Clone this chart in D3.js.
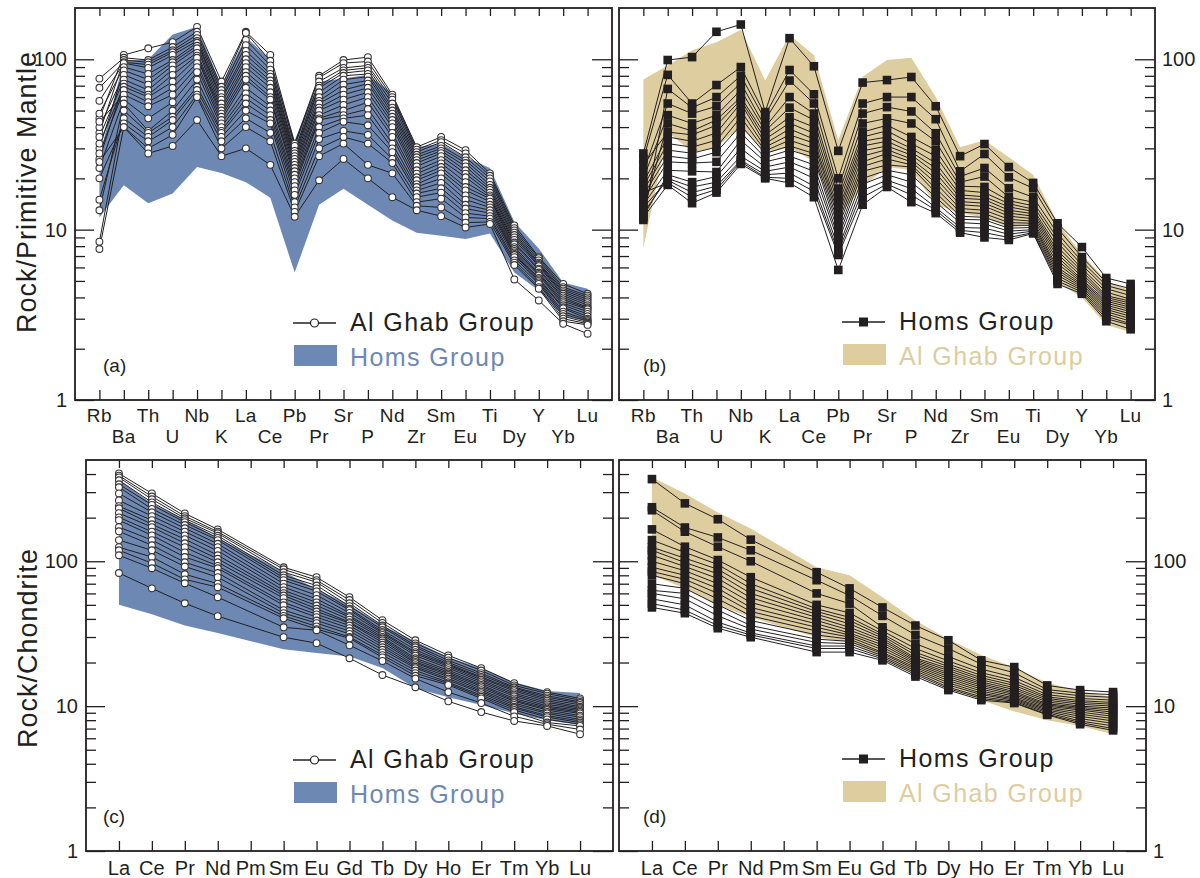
<!DOCTYPE html>
<html>
<head>
<meta charset="utf-8">
<script src="https://cdn.jsdelivr.net/npm/d3@7/dist/d3.min.js"></script>
<style>
  html, body { margin: 0; padding: 0; background: #ffffff; }
  svg { display: block; font-family: "Liberation Sans", Arial, Helvetica, sans-serif; }
</style>
</head>
<body>
<svg id="chart" width="1200" height="878"></svg>
<script>
// ---- element orders ----
const pmElements = ["Rb","Ba","Th","U","Nb","K","La","Ce","Pb","Pr","Sr","P","Nd","Zr","Sm","Eu","Ti","Dy","Y","Yb","Lu"];
const reeElements = ["La","Ce","Pr","Nd","Pm","Sm","Eu","Gd","Tb","Dy","Ho","Er","Tm","Yb","Lu"];

// ---- primitive-mantle normalised samples (Rb ... Lu) ----
const alGhabPM = [
  [45, 106, 116, 126, 155, 74, 145, 106, 32, 80, 99, 103, 62, 30.5, 35, 29.3, 21.4, 10.6, 6.9, 4.8, 4.2],
  [77, 102, 99, 118, 145, 69, 143, 98, 31, 78, 95, 97, 60, 29.5, 33.5, 28, 20.7, 10.2, 6.8, 4.6, 4.1],
  [37, 99, 96, 113, 139, 66, 130, 92, 29, 74, 89, 92, 58, 28.5, 32.6, 26.6, 20, 9.9, 6.6, 4.5, 4.0],
  [68, 96, 93, 110, 133, 63, 121, 87, 28, 70, 86, 89, 55, 27.5, 31, 25.5, 19.2, 9.6, 6.4, 4.4, 3.9],
  [57, 95, 89, 106, 128, 60, 112, 82, 27, 68, 83, 86, 52, 26.6, 30, 24.6, 18.3, 9.3, 6.3, 4.3, 3.8],
  [48, 90, 82, 99, 125, 58, 106, 79, 26, 64, 80, 82, 50, 25.6, 29, 23.5, 17.6, 9.0, 6.2, 4.2, 3.7],
  [30, 86, 76, 96, 120, 55, 100, 75, 25, 60, 76, 79, 48, 24.6, 28.1, 22.3, 17.1, 8.7, 6.1, 4.1, 3.6],
  [40, 81, 71, 92, 116, 52, 95, 72, 24, 57, 71, 75, 46, 23.5, 27, 21.3, 16.5, 8.4, 5.9, 4.0, 3.5],
  [35, 76, 66, 87, 109, 50, 90, 68, 23, 55, 66, 72, 44, 22.3, 25.6, 20.3, 15.9, 8.2, 5.8, 3.9, 3.45],
  [26, 72, 62, 81, 105, 48, 84, 64, 22, 52, 62, 68, 42, 21.3, 24.5, 19, 15.5, 7.9, 5.6, 3.8, 3.4],
  [32, 69, 60, 74, 102, 46, 80, 60, 21, 50, 58, 64, 40, 20.3, 23.3, 17.8, 15.2, 7.7, 5.5, 3.7, 3.3],
  [28, 66, 56, 68, 95, 44, 76, 58, 20, 47, 54, 60, 37, 19.5, 22.3, 17, 14.6, 7.5, 5.4, 3.6, 3.2],
  [43, 62, 53, 62, 90, 42, 68, 53, 19, 45, 50, 56, 35, 18.5, 21.4, 15.9, 14, 7.35, 5.2, 3.5, 3.1],
  [23, 58, 45, 56, 84, 40, 63, 50, 18, 44, 47, 51, 32, 17.8, 20, 15, 13.5, 7.2, 5.1, 3.45, 3.0],
  [13, 55, 38, 50, 76, 38, 59, 47, 17, 40, 45, 47, 30, 17, 18.8, 14, 13, 7.1, 5.0, 3.3, 2.95],
  [8.5, 50, 37, 46, 69, 37, 55, 44, 16, 37, 43, 41, 28.5, 16.3, 17.5, 13.3, 12.5, 6.9, 4.9, 3.2, 2.9],
  [15, 45, 35, 44, 66, 35, 50, 42, 14.5, 34, 38, 36, 26, 15.5, 16.5, 12.5, 12, 6.6, 4.8, 3.1, 2.85],
  [20, 42, 33, 40, 62, 33, 45, 37, 13.5, 30, 35, 32, 24.6, 14.5, 15.2, 11.8, 11.6, 6.4, 4.6, 3.0, 2.8],
  [7.7, 40, 30, 36, 60, 30, 40, 33, 12.7, 27, 32, 24, 21.4, 13.8, 13.5, 11, 11.1, 6.2, 4.5, 2.9, 2.76],
  [25, 40, 28, 31, 44, 27, 30, 24, 11.9, 19.5, 26, 20, 15.5, 13, 12, 10.3, 10.8, 5.1, 3.84, 2.8, 2.45]
];

const homsPM = [
  [28, 99, 103, 145, 160, 49, 133, 91, 29, 73, 75.5, 78.7, 53, 27, 31.8, 23.3, 18.8, 10.9, 7.9, 5.2, 4.8],
  [26, 81, 55, 70.6, 90, 47, 86.5, 62.3, 20, 55, 60, 60, 44.5, 22, 27.8, 20.3, 17.5, 10.2, 6.9, 4.9, 4.5],
  [11.4, 67, 52, 60, 80, 44, 75, 55, 17.4, 48, 52.4, 49.4, 36.8, 20.5, 23, 17.5, 15.5, 9.5, 6.5, 4.7, 4.3],
  [22, 55, 48, 53, 72.5, 40, 60, 48, 16, 42, 45, 42, 33, 19, 20.5, 15.5, 14.5, 8.9, 6.2, 4.5, 4.1],
  [20, 47, 42, 47, 66, 38, 52, 44, 15, 37.4, 41, 35, 29.3, 18, 17.8, 14.8, 13.8, 8.4, 5.9, 4.3, 3.9],
  [13, 42, 38, 44, 60, 36, 45.7, 40, 14, 35, 38, 32, 27, 17, 16.5, 14.2, 13.2, 7.9, 5.7, 4.1, 3.8],
  [24, 37.4, 36, 41, 57.7, 34, 42.2, 36.8, 13, 33, 35, 30, 24.6, 16, 15.6, 13.6, 12.8, 7.5, 5.5, 4.0, 3.7],
  [19, 35, 33, 37, 55.3, 32, 39, 34, 12.3, 31, 33, 28.5, 23, 15.3, 15, 13, 12.4, 7.2, 5.3, 3.9, 3.6],
  [18, 32, 30.5, 33.5, 50, 30.5, 36, 32.2, 11.6, 29, 31, 27.4, 21.5, 14.6, 14.3, 12.5, 12, 6.9, 5.1, 3.8, 3.5],
  [17, 29.3, 28.1, 30.5, 45.7, 29, 33.5, 30, 10.9, 27, 29.5, 26, 20, 14, 13.7, 12, 11.6, 6.6, 5.0, 3.7, 3.4],
  [16, 27, 26, 28.5, 41, 28, 31, 28, 10.3, 25, 28, 25, 18.8, 13.3, 13, 11.5, 11.2, 6.3, 4.9, 3.6, 3.3],
  [15, 25, 24.6, 25, 37, 26.5, 29.3, 26.6, 9.6, 23.5, 26, 24, 17.5, 12.7, 12.4, 11, 10.9, 6.0, 4.8, 3.5, 3.2],
  [14, 22.3, 22, 21.8, 33.5, 25, 27, 24, 9, 22, 24, 23.3, 16.5, 12, 11.8, 10.6, 10.6, 5.8, 4.7, 3.4, 3.1],
  [12, 21, 19, 20.5, 30, 23.3, 25, 22, 8.5, 20, 22.3, 21, 15.5, 11.5, 11.4, 10.2, 10.3, 5.6, 4.6, 3.3, 3.0],
  [12.5, 20, 17.8, 19, 27, 22, 23.3, 20, 7.8, 18.5, 21, 19, 14.5, 11, 10.8, 9.8, 10, 5.4, 4.5, 3.2, 2.9],
  [13.5, 19.5, 16.5, 18, 25.5, 21, 21.5, 18, 7.4, 17, 19.5, 17.4, 13.5, 10.3, 10.2, 9.4, 9.8, 5.2, 4.4, 3.1, 2.8],
  [16.5, 18.8, 15.5, 17.2, 25, 20.3, 20, 16.8, 7.1, 15.5, 18.5, 16, 13, 9.9, 9.6, 9, 9.6, 5.0, 4.3, 3.0, 2.75],
  [11.8, 18.3, 14.3, 16.5, 24.3, 20, 18.8, 15.5, 5.8, 14, 17.8, 14.5, 12.5, 9.6, 9.0, 8.7, 9.5, 4.8, 4.2, 2.9, 2.6]
];

// range envelopes (upper / lower bound per element)
const homsPMHigh = [27, 98, 100, 140, 155, 70, 135, 100, 33.5, 74, 77, 81, 63, 30.5, 32, 26.6, 23, 11.1, 7.75, 4.9, 4.5];
const homsPMLow  = [11.8, 18.2, 14.3, 16.3, 23.3, 21.5, 19, 15.4, 5.6, 14, 17.4, 14, 11.3, 9.6, 9.2, 8.8, 9.5, 5.6, 4.4, 3.1, 2.9];
const alGhabPMHigh = [76, 92, 113, 126, 149, 75, 139, 106, 33.5, 79, 99, 102, 60, 30.5, 33.5, 26.6, 21, 11, 7.2, 5.0, 4.4];
const alGhabPMLow  = [7.8, 37.5, 28.5, 30.5, 40, 28, 30.5, 25, 12, 17.8, 23.3, 22.3, 14.1, 12.5, 11.8, 10.3, 10.6, 4.9, 4.0, 2.76, 2.5];

// ---- chondrite normalised samples (La ... Lu, Pm not analysed) ----
const alGhabREE = [
  [404, 294, 214, 166, null, 90.9, 77.6, 56.5, 39.2, 28.5, 22.4, 18.3, 14.4, 12.5, 11.3],
  [390, 280, 205, 160, null, 88, 74, 54, 37.5, 27.1, 21.6, 17.6, 13.9, 12.2, 11.0],
  [379, 268, 198, 156, null, 84, 71.7, 51.3, 36, 26.2, 20.7, 16.9, 13.5, 11.8, 10.7],
  [362, 255, 192, 150, null, 80, 68, 49, 35, 25.5, 20, 16.4, 13.3, 11.5, 10.5],
  [340, 245, 186, 145, null, 77, 65, 47, 33.5, 24.5, 19.5, 15.9, 13, 11.2, 10.2],
  [324, 230, 178, 140, null, 74, 62, 46, 32.5, 23.6, 19.2, 15.6, 12.7, 10.9, 9.9],
  [294, 218, 169, 132, null, 70, 58.3, 44, 31.9, 23, 18.8, 15.2, 12.3, 10.6, 9.7],
  [263, 205, 160, 125, null, 66.2, 55, 42, 31, 22.3, 18.3, 14.8, 12, 10.3, 9.5],
  [240, 192, 151, 118, null, 63, 52, 41.1, 30, 21.4, 17.7, 14.4, 11.7, 10.0, 9.3],
  [232, 180, 142, 110, null, 60.2, 49.5, 39.5, 29.3, 20.8, 17.2, 14, 11.3, 9.8, 9.1],
  [215, 172, 133, 104, null, 58, 47, 38, 28.5, 20.2, 16.8, 13.7, 11, 9.6, 8.9],
  [201, 160, 125, 98.4, null, 55.6, 45, 37.4, 27.5, 19.8, 16.4, 13.3, 10.8, 9.4, 8.6],
  [192, 151, 115, 93, null, 52, 43, 36, 26.5, 19.2, 16, 12.9, 10.5, 9.1, 8.4],
  [172, 140, 107, 89.5, null, 49.7, 41.1, 34.5, 25.5, 18.7, 15.5, 12.6, 10.2, 8.9, 8.1],
  [161, 129, 98.4, 83, null, 46, 39, 33, 24.5, 18.3, 15.1, 12.3, 9.9, 8.6, 7.9],
  [140, 119, 92, 77.6, null, 43.8, 37.4, 31.5, 23.5, 17.6, 14.6, 11.9, 9.7, 8.4, 7.7],
  [125, 107, 81.3, 70, null, 42, 35.5, 30, 22.5, 16.9, 14.3, 11.6, 9.4, 8.1, 7.5],
  [119, 97, 75, 66.2, null, 40.4, 34, 29.4, 21.7, 16.2, 14, 11.3, 9.1, 7.7, 7.3],
  [110, 89.5, 70.5, 56.5, null, 35, 33.4, 26.3, 20.5, 15.5, 12.5, 10.5, 8.5, 7.5, 6.9],
  [83, 65, 51.3, 41.8, null, 29.9, 27.2, 21.4, 16.4, 13.5, 10.8, 9.1, 7.9, 7.3, 6.4]
];

const homsREE = [
  [369, 251, 195, 141, null, 84, 65, 48, 36, 28.5, 20.7, 18.6, 13.9, 12.9, 12.5],
  [236, 171, 146, 119, null, 74, 58, 42, 31, 25, 19.5, 17, 13, 12.3, 12],
  [225, 160, 126, 100, null, 60, 51, 35, 27, 22, 18, 15.8, 12.5, 11.8, 11.5],
  [166, 126, 102, 77.6, null, 50, 44, 33, 25, 20.5, 17, 15, 12, 11.3, 11],
  [140, 115, 95, 70, null, 47, 41, 31.5, 23.5, 19.5, 16.3, 14.4, 11.6, 10.9, 10.6],
  [125, 105, 88, 65, null, 45, 39, 30.5, 22.5, 18.8, 15.7, 13.9, 11.3, 10.6, 10.3],
  [119, 98, 82, 60, null, 43, 37, 29.5, 21.5, 18.2, 15.2, 13.4, 11, 10.3, 10],
  [110, 92, 76, 56, null, 41, 35, 28.5, 21, 17.6, 14.7, 13, 10.7, 10, 9.7],
  [100, 86, 70, 52, null, 39, 33.5, 27.5, 20.5, 17, 14.3, 12.6, 10.4, 9.8, 9.4],
  [91, 80, 65, 48, null, 37, 32, 26.5, 20, 16.5, 13.9, 12.3, 10.2, 9.6, 9.1],
  [85, 75, 60, 45, null, 35, 31, 25.5, 19.5, 16, 13.5, 12, 10, 9.4, 8.8],
  [80, 70, 55, 42, null, 33, 30, 24.5, 19, 15.5, 13.1, 11.7, 9.8, 9.1, 8.5],
  [70, 65, 50, 39, null, 31, 29, 23.5, 18.5, 15, 12.7, 11.4, 9.6, 8.8, 8.2],
  [63, 60, 46, 36, null, 29, 28, 23, 18, 14.5, 12.3, 11.2, 9.4, 8.5, 7.9],
  [60, 55, 42, 34, null, 27.5, 27, 22.3, 17.5, 14, 12, 11, 9.2, 8.2, 7.6],
  [55, 50, 38, 32, null, 26, 26, 21.7, 17, 13.5, 11.6, 10.8, 9, 7.9, 7.3],
  [51, 46, 36, 31, null, 25, 25, 21.2, 16.5, 13.2, 11.3, 10.6, 8.8, 7.7, 7.0],
  [48, 43.8, 34.5, 29.9, null, 23.6, 23.6, 20.7, 16, 12.9, 11, 10.5, 8.7, 7.5, 6.8]
];

const homsREEHigh = [365, 250, 195, 145, null, 85, 64, 50, 36, 28, 21.7, 18.3, 14.6, 12.7, 12.3];
const homsREELow  = [50, 43, 36, 32, null, 24.7, 23.3, 22, 18.3, 13.3, 11.5, 10.2, 8.9, 8.0, 7.4];
const alGhabREEHigh = [380, 294, 217, 168, null, 91, 80, 56.5, 39, 29, 22.5, 18.5, 14.5, 12.7, 11.5];
const alGhabREELow  = [80, 65, 49.7, 41, null, 29.9, 27.5, 21.5, 16.5, 13.5, 11, 9.2, 8, 7.3, 6.4];

// ---- styling ----
const INK = "#231f20";
const BLUE = "#6d89b3";
const TAN = "#ddcd9f";
const FONT = "'Liberation Sans', Arial, Helvetica, sans-serif";

const svg = d3.select("#chart");

function logTicks(maxVal) {
  const major = [], minor = [];
  for (let d = 1; d <= maxVal; d *= 10) {
    for (let k = 1; k <= 9; k++) {
      const v = k * d;
      if (v >= maxVal) continue;
      (k === 1 ? major : minor).push(v);
    }
  }
  return { major, minor };
}

// pair each value with its element index, dropping elements not analysed
const indexed = s => s.map((v, i) => ({ i, v })).filter(d => d.v != null);

function drawPanel(cfg) {
  const g = svg.append("g");
  const n = cfg.elements.length;
  const x = d3.scaleLinear().domain([-1, n]).range([cfg.x0, cfg.x1]);
  const y = d3.scaleLog().domain([1, cfg.yMax]).range([cfg.y1, cfg.y0]);

  // range envelope of the other group
  const env = cfg.high.map((h, i) => ({ i, h, l: cfg.low[i] })).filter(d => d.h != null);
  g.append("path")
    .datum(env)
    .attr("fill", cfg.envColor)
    .attr("stroke", "none")
    .attr("d", d3.area().x(d => x(d.i)).y0(d => y(d.l)).y1(d => y(d.h)));

  // sample lines (joined straight across any missing element)
  const line = d3.line().x(d => x(d.i)).y(d => y(d.v));
  g.append("g").selectAll("path")
    .data(cfg.samples.map(indexed))
    .join("path")
    .attr("fill", "none")
    .attr("stroke", INK)
    .attr("stroke-width", 1)
    .attr("d", line);

  // markers
  const pts = cfg.samples.flatMap(indexed);
  const mk = g.append("g");
  if (cfg.marker === "circle") {
    mk.selectAll("circle").data(pts).join("circle")
      .attr("cx", d => x(d.i)).attr("cy", d => y(d.v)).attr("r", 3.4)
      .attr("fill", "#ffffff").attr("stroke", "#3a3637").attr("stroke-width", 1.1);
  } else {
    const s = 8.6;
    mk.selectAll("rect").data(pts).join("rect")
      .attr("x", d => x(d.i) - s / 2).attr("y", d => y(d.v) - s / 2)
      .attr("width", s).attr("height", s)
      .attr("fill", INK);
  }

  // axes (ticks point inward on all four sides)
  const t = logTicks(cfg.yMax);
  const styleAxis = sel => {
    sel.select(".domain").remove();
    sel.selectAll(".tick line").attr("stroke", INK).attr("stroke-width", 1.3);
    sel.selectAll(".tick text").remove();
  };
  g.append("g").attr("transform", `translate(${cfg.x0},0)`)
    .call(d3.axisLeft(y).tickValues(t.major).tickSize(-19).tickFormat("")).call(styleAxis);
  g.append("g").attr("transform", `translate(${cfg.x0},0)`)
    .call(d3.axisLeft(y).tickValues(t.minor).tickSize(-10).tickFormat("")).call(styleAxis);
  g.append("g").attr("transform", `translate(${cfg.x1},0)`)
    .call(d3.axisRight(y).tickValues(t.major).tickSize(-20).tickFormat("")).call(styleAxis);
  g.append("g").attr("transform", `translate(${cfg.x1},0)`)
    .call(d3.axisRight(y).tickValues(t.minor).tickSize(-10).tickFormat("")).call(styleAxis);
  const idx = d3.range(n);
  g.append("g").attr("transform", `translate(0,${cfg.y0})`)
    .call(d3.axisTop(x).tickValues(idx).tickSize(-8).tickFormat("")).call(styleAxis);
  g.append("g").attr("transform", `translate(0,${cfg.y1})`)
    .call(d3.axisBottom(x).tickValues(idx).tickSize(-10).tickFormat("")).call(styleAxis);

  // frame
  g.append("rect")
    .attr("x", cfg.x0).attr("y", cfg.y0)
    .attr("width", cfg.x1 - cfg.x0).attr("height", cfg.y1 - cfg.y0)
    .attr("fill", "none").attr("stroke", INK).attr("stroke-width", 1.8);

  // y tick labels
  const yl = g.append("g")
    .attr("font-family", FONT).attr("font-size", 20).attr("fill", INK);
  t.major.forEach(v => {
    yl.append("text")
      .attr("x", cfg.labelSide === "left" ? cfg.x0 - 8 : cfg.x1 + 7)
      .attr("y", y(v)).attr("dy", "0.36em")
      .attr("text-anchor", cfg.labelSide === "left" ? "end" : "start")
      .text(v);
  });

  // x element labels
  const xl = g.append("g")
    .attr("font-family", FONT).attr("font-size", cfg.xFont).attr("fill", INK)
    .attr("text-anchor", "middle");
  cfg.elements.forEach((e, i) => {
    const row = cfg.stagger ? i % 2 : 0;
    xl.append("text")
      .attr("x", x(i))
      .attr("y", cfg.xLabelY + row * 21)
      .attr("letter-spacing", cfg.xSpacing)
      .text(e);
  });

  // panel letter
  g.append("text")
    .attr("x", cfg.x0 + cfg.letterDx).attr("y", cfg.letterY)
    .attr("font-family", FONT).attr("font-size", 19).attr("fill", INK)
    .text(cfg.letter);

  // legend
  const lg = g.append("g").attr("font-family", FONT).attr("font-size", 25).attr("letter-spacing", 1.4);
  const lx0 = cfg.legendX, lx1 = cfg.legendX + 43, lmid = (lx0 + lx1) / 2;
  lg.append("line")
    .attr("x1", lx0).attr("x2", lx1).attr("y1", cfg.legendY).attr("y2", cfg.legendY)
    .attr("stroke", INK).attr("stroke-width", 1.3);
  if (cfg.marker === "circle") {
    lg.append("circle").attr("cx", lmid).attr("cy", cfg.legendY).attr("r", 4)
      .attr("fill", "#fff").attr("stroke", INK).attr("stroke-width", 1.2);
  } else {
    lg.append("rect").attr("x", lmid - 4.5).attr("y", cfg.legendY - 4.5)
      .attr("width", 9).attr("height", 9).attr("fill", INK);
  }
  lg.append("text").attr("x", lx1 + 14).attr("y", cfg.legendY + 8)
    .attr("fill", INK).text(cfg.lineName);
  lg.append("rect")
    .attr("x", lx0 + 1).attr("y", cfg.legendY + 22)
    .attr("width", 43).attr("height", 21)
    .attr("fill", cfg.envColor);
  lg.append("text").attr("x", lx1 + 14).attr("y", cfg.legendY + 43)
    .attr("fill", cfg.envColor).text(cfg.envName);
}

// (a) primitive mantle, Al Ghab samples over Homs range
drawPanel({
  x0: 75, x1: 612, y0: 8, y1: 400, yMax: 200,
  elements: pmElements, samples: alGhabPM, high: homsPMHigh, low: homsPMLow,
  envColor: BLUE, marker: "circle", labelSide: "left",
  stagger: true, xLabelY: 422, xFont: 19, xSpacing: 0.4,
  letter: "(a)", letterDx: 28, letterY: 372,
  legendX: 293, legendY: 323, lineName: "Al Ghab Group", envName: "Homs Group"
});

// (b) primitive mantle, Homs samples over Al Ghab range
drawPanel({
  x0: 619, x1: 1155, y0: 8, y1: 400, yMax: 200,
  elements: pmElements, samples: homsPM, high: alGhabPMHigh, low: alGhabPMLow,
  envColor: TAN, marker: "square", labelSide: "right",
  stagger: true, xLabelY: 422, xFont: 19, xSpacing: 0.4,
  letter: "(b)", letterDx: 24, letterY: 372,
  legendX: 842, legendY: 322, lineName: "Homs Group", envName: "Al Ghab Group"
});

// (c) chondrite, Al Ghab samples over Homs range
drawPanel({
  x0: 86, x1: 613, y0: 460, y1: 851, yMax: 500,
  elements: reeElements, samples: alGhabREE, high: homsREEHigh, low: homsREELow,
  envColor: BLUE, marker: "circle", labelSide: "left",
  stagger: false, xLabelY: 875, xFont: 20, xSpacing: 0,
  letter: "(c)", letterDx: 17, letterY: 823,
  legendX: 293, legendY: 760, lineName: "Al Ghab Group", envName: "Homs Group"
});

// (d) chondrite, Homs samples over Al Ghab range
drawPanel({
  x0: 619, x1: 1146, y0: 460, y1: 851, yMax: 500,
  elements: reeElements, samples: homsREE, high: alGhabREEHigh, low: alGhabREELow,
  envColor: TAN, marker: "square", labelSide: "right",
  stagger: false, xLabelY: 875, xFont: 20, xSpacing: 0,
  letter: "(d)", letterDx: 24, letterY: 823,
  legendX: 842, legendY: 759, lineName: "Homs Group", envName: "Al Ghab Group"
});

// y-axis titles
svg.append("text")
  .attr("transform", "translate(36,192) rotate(-90)")
  .attr("text-anchor", "middle")
  .attr("font-family", FONT).attr("font-size", 27).attr("letter-spacing", 1)
  .attr("fill", INK)
  .text("Rock/Primitive Mantle");
svg.append("text")
  .attr("transform", "translate(37,648) rotate(-90)")
  .attr("text-anchor", "middle")
  .attr("font-family", FONT).attr("font-size", 27).attr("letter-spacing", 1)
  .attr("fill", INK)
  .text("Rock/Chondrite");
</script>
</body>
</html>
